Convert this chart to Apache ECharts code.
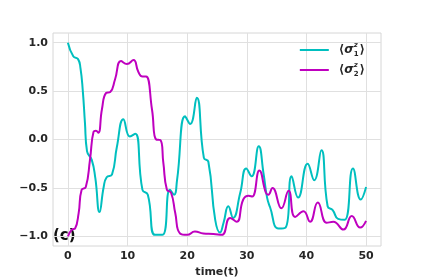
<!DOCTYPE html>
<html>
<head>
<meta charset="utf-8">
<script src="https://cdn.jsdelivr.net/npm/echarts@6/dist/echarts.min.js"></script>
<style>html,body{margin:0;padding:0;background:#fff}#c{width:423px;height:277px}</style>
</head>
<body>
<div id="c"></div>
<script>
const xTicks = [0, 10, 20, 30, 40, 50];
const yTicks = [-1.0, -0.5, 0.0, 0.5, 1.0];
const seriesNames = ['s1', 's2'];
const t1 = [0, 0.9, 1.7, 2.1, 2.5, 2.85, 3.2, 4.0, 4.6, 5.3, 6.0, 6.5, 7.4, 8.2, 9.3, 10.4, 11.3, 12.5, 13.4, 14.6, 15.85, 17.1, 17.8, 18.3, 19.65, 20.5, 21.6, 22.8, 23.55, 24.7, 25.5, 26.1, 26.9, 27.7, 28.9, 29.9, 30.8, 32.0, 32.8, 33.4, 33.9, 35.3, 36.5, 37.5, 38.6, 40.2, 41.3, 42.5, 43.55, 44.4, 45.3, 46.4, 47.8, 49.1, 50.0];
const y1 = [1.0, 0.86, 0.83, 0.74, 0.5, 0.18, -0.12, -0.21, -0.40, -0.75, -0.49, -0.39, -0.36, -0.08, 0.21, 0.03, 0.06, -0.52, -0.57, -0.985, -0.985, -0.52, -0.57, -0.42, 0.24, 0.16, 0.43, -0.19, -0.23, -0.83, -0.96, -0.86, -0.69, -0.81, -0.55, -0.30, -0.38, -0.07, -0.35, -0.60, -0.70, -0.92, -0.91, -0.38, -0.60, -0.25, -0.42, -0.11, -0.69, -0.73, -0.82, -0.83, -0.30, -0.62, -0.49];
const t2 = [0, 0.7, 1.2, 1.8, 2.3, 3.0, 3.7, 4.3, 4.7, 5.1, 5.7, 6.4, 7.1, 7.9, 8.9, 9.9, 11.0, 11.8, 12.5, 13.1, 14.1, 14.8, 15.5, 16.0, 16.6, 17.3, 18.0, 18.8, 20.0, 21.3, 22.7, 24.4, 25.8, 27.2, 28.3, 29.4, 30.3, 30.9, 32.1, 33.2, 33.6, 34.3, 35.8, 37.0, 38.1, 39.5, 40.6, 41.9, 43.4, 44.5, 46.2, 47.6, 49.0, 50.0];
const y2 = [-1.0, -0.93, -0.92, -0.76, -0.52, -0.49, -0.21, 0.08, 0.09, 0.07, 0.31, 0.48, 0.49, 0.62, 0.81, 0.78, 0.82, 0.70, 0.65, 0.65, 0.31, 0.0, -0.005, -0.24, -0.52, -0.55, -0.76, -0.97, -0.985, -0.95, -0.97, -0.975, -0.985, -0.81, -0.85, -0.62, -0.58, -0.59, -0.32, -0.55, -0.57, -0.50, -0.71, -0.53, -0.80, -0.74, -0.85, -0.65, -0.86, -0.85, -0.93, -0.79, -0.91, -0.84];

const pair = (t, y) => t.map((v, i) => [v, y[i]]);
const font = '"DejaVu Sans", sans-serif';
const chart = echarts.init(document.getElementById('c'), null, {renderer: 'canvas'});
chart.setOption({
  animation: false,
  backgroundColor: '#fff',
  grid: {left: 53, right: 42, top: 33, bottom: 31, containLabel: false, outerBoundsMode: 'none', show: true, borderColor: '#d6d6d6', borderWidth: 1},
  xAxis: {
    type: 'value', min: -2.5, max: 52.5,
    name: 'time(t)', nameLocation: 'middle', nameGap: 15,
    nameTextStyle: {fontFamily: font, fontWeight: 'bold', fontSize: 11, color: '#262626'},
    axisLine: {show: false}, axisTick: {show: false, customValues: xTicks},
    axisLabel: {customValues: xTicks, fontFamily: font, fontWeight: 'bold', fontSize: 11, color: '#262626', margin: 5},
    splitLine: {show: true, lineStyle: {color: '#e0e0e0', width: 1}}
  },
  yAxis: {
    type: 'value', min: -1.1, max: 1.1,
    axisLine: {show: false}, axisTick: {show: false, customValues: yTicks},
    axisLabel: {customValues: yTicks, fontFamily: font, fontWeight: 'bold', fontSize: 11, color: '#262626', margin: 5,
      formatter: v => v.toFixed(1).replace('-', '\u2212')},
    splitLine: {show: true, lineStyle: {color: '#e0e0e0', width: 1}}
  },
  legend: {
    orient: 'vertical', right: 53, top: 37, itemGap: 4,
    icon: 'rect', itemWidth: 29, itemHeight: 2,
    formatter: n => n === 's1' ? '{a|\u27E8}{s|\u03C3}{p|z}{b|1}{a|\u27E9}' : '{a|\u27E8}{s|\u03C3}{p|z}{b|2}{a|\u27E9}',
    textStyle: {
      padding: [0, 0, 0, 5],
      rich: {
        a: {fontFamily: font, fontWeight: 'bold', fontSize: 12, color: '#262626', lineHeight: 16},
        s: {fontFamily: font, fontWeight: 'bold', fontSize: 12, fontStyle: 'italic', color: '#262626', lineHeight: 16},
        p: {fontFamily: font, fontWeight: 'bold', fontSize: 7, fontStyle: 'italic', color: '#262626', verticalAlign: 'top', width: 0, lineHeight: 16},
        b: {fontFamily: font, fontWeight: 'bold', fontSize: 7, color: '#262626', verticalAlign: 'bottom', lineHeight: 16, padding: [0, 1, 0, 0]}
      }
    },
    data: seriesNames
  },
  graphic: [{type: 'text', left: 53, top: 229, style: {text: '(c)', font: 'bold 15px "DejaVu Sans", sans-serif', fill: '#111'}}],
  series: [
    {name: 's1', type: 'line', data: pair(t1, y1), smooth: 0.5, showSymbol: false, symbol: 'none', color: '#00bfbf', lineStyle: {width: 2}},
    {name: 's2', type: 'line', data: pair(t2, y2), smooth: 0.5, showSymbol: false, symbol: 'none', color: '#bf00bf', lineStyle: {width: 2}}
  ]
});
</script>
</body>
</html>
